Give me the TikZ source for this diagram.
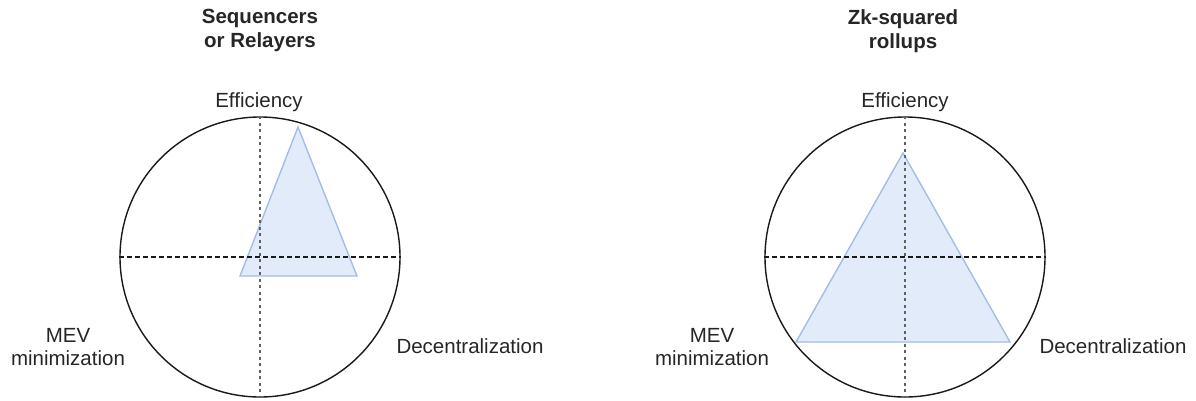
\documentclass[tikz,border=0pt]{standalone}
\usepackage{fontspec}
\setmainfont{Liberation Sans}
\definecolor{tristroke}{RGB}{164,189,228}
\definecolor{trifill}{RGB}{225,235,250}
\begin{document}
\begin{tikzpicture}[x=1pt,y=-1pt,
  lbl/.style={inner sep=0pt,font=\fontsize{20.5}{23.5}\selectfont,align=center,text=black!85},
  ttl/.style={inner sep=0pt,font=\bfseries\fontsize{20.5}{24}\selectfont,align=center,text=black!85},
  ring/.style={circle,draw=black!90,line width=1.4pt,minimum size=280pt,inner sep=0pt},
  tri/.style={draw=tristroke,fill=trifill,line width=1.4pt,line join=miter},
  hdash/.style={draw=black!90,line width=1.4pt,dash pattern=on 4.5pt off 3.5pt},
  vdash/.style={draw=black!62,line width=2.2pt,dash pattern=on 3pt off 3.5pt}]
\useasboundingbox (0,0) rectangle (1196,400);
% left diagram
\node[ring] (c1) at (260,257) {};
\coordinate (t1a) at (298,127);
\coordinate (t1b) at (240,276);
\coordinate (t1c) at (357,276);
\path[tri] (t1a) -- (t1b) -- (t1c) -- cycle;
\draw[hdash] (c1.west) -- (c1.east);
\draw[vdash] (c1.north) -- (c1.south);
\node[ttl,anchor=north] (h1) at (260,9) {Sequencers\\or Relayers};
\node[lbl,anchor=base] (e1) at (259,107) {Efficiency};
\node[lbl,anchor=north] (m1) at (68,328) {MEV\\minimization};
\node[lbl,anchor=base] (d1) at (470,353) {Decentralization};
% right diagram
\node[ring] (c2) at (905,257) {};
\coordinate (t2a) at (903,153);
\coordinate (t2b) at (796,342);
\coordinate (t2c) at (1010,342);
\path[tri] (t2a) -- (t2b) -- (t2c) -- cycle;
\draw[hdash] (c2.west) -- (c2.east);
\draw[vdash] (c2.north) -- (c2.south);
\node[ttl,anchor=north] (h2) at (903,9) {Zk-squared\\rollups};
\node[lbl,anchor=base] (e2) at (905,107) {Efficiency};
\node[lbl,anchor=north] (m2) at (712,328) {MEV\\minimization};
\node[lbl,anchor=base] (d2) at (1113,353) {Decentralization};
\end{tikzpicture}
\end{document}
